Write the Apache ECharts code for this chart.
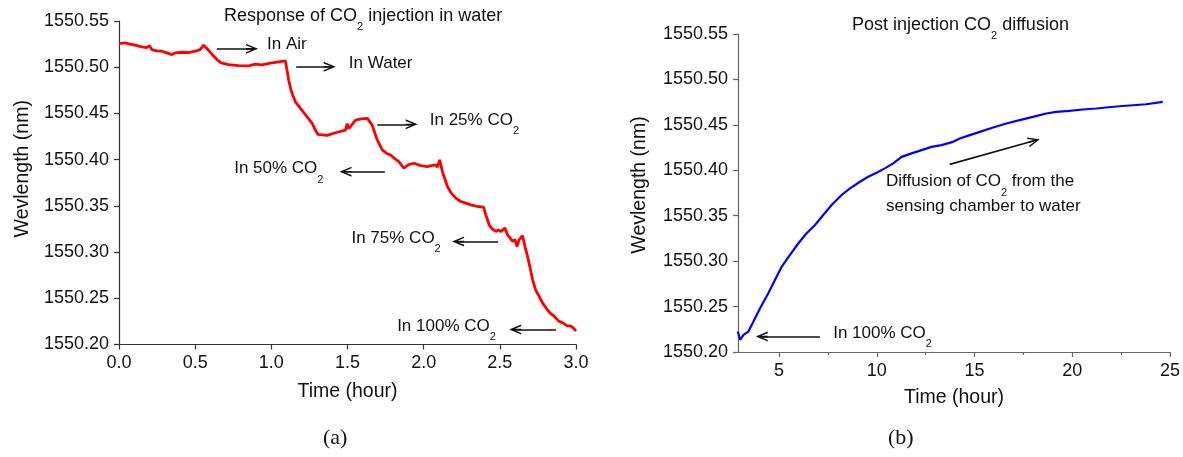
<!DOCTYPE html>
<html>
<head>
<meta charset="utf-8">
<script src="https://cdn.jsdelivr.net/npm/echarts@6/dist/echarts.min.js"></script>
<style>
html,body{margin:0;padding:0;background:#fff;}
#c{width:1183px;height:457px;}
</style>
</head>
<body>
<div id="c"></div>
<script>
// ---- Data (a): response of CO2 injection in water ----
var timeA = [0.0, 0.039, 0.072, 0.105, 0.149, 0.182, 0.2, 0.215, 0.248, 0.281,
  0.314, 0.347, 0.368, 0.412, 0.456, 0.5, 0.533, 0.555, 0.577, 0.61,
  0.643, 0.671, 0.719, 0.785, 0.851, 0.895, 0.939, 0.993, 1.048, 1.092,
  1.103, 1.114, 1.132, 1.158, 1.191, 1.235, 1.268, 1.289, 1.305, 1.366,
  1.421, 1.487, 1.498, 1.508, 1.52, 1.553, 1.59, 1.63, 1.662, 1.695,
  1.728, 1.755, 1.783, 1.81, 1.837, 1.87, 1.90, 1.936, 1.98, 2.024,
  2.05, 2.079, 2.09, 2.105, 2.123, 2.156, 2.18, 2.211, 2.24, 2.276,
  2.31, 2.353, 2.393, 2.408, 2.43, 2.45, 2.474, 2.49, 2.507, 2.533,
  2.551, 2.584, 2.60, 2.612, 2.627, 2.649, 2.665, 2.682, 2.70, 2.715,
  2.735, 2.758, 2.78, 2.803, 2.83, 2.857, 2.885, 2.913, 2.94, 2.967,
  2.985, 3.0];
var waveA = [1550.5256, 1550.5263, 1550.5249, 1550.5238, 1550.522, 1550.5213, 1550.5234, 1550.5191, 1550.5177, 1550.5173,
  1550.5155, 1550.5137, 1550.5155, 1550.5162, 1550.5159, 1550.5173, 1550.5191, 1550.5238, 1550.5202, 1550.5141,
  1550.5083, 1550.5047, 1550.5029, 1550.5018, 1550.5015, 1550.5033, 1550.5026, 1550.5044, 1550.5058, 1550.5069,
  1550.4968, 1550.486, 1550.4734, 1550.4626, 1550.4555, 1550.4464, 1550.4393, 1550.432, 1550.4274, 1550.4263,
  1550.4291, 1550.432, 1550.439, 1550.4335, 1550.4339, 1550.4428, 1550.444, 1550.4447, 1550.4374, 1550.4213,
  1550.4105, 1550.407, 1550.405, 1550.401, 1550.3978, 1550.3907, 1550.3945, 1550.3961, 1550.3935, 1550.3924,
  1550.3935, 1550.3943, 1550.392, 1550.3997, 1550.387, 1550.3709, 1550.364, 1550.3583, 1550.355, 1550.3529,
  1550.351, 1550.3493, 1550.3486, 1550.3403, 1550.3295, 1550.325, 1550.3223, 1550.324, 1550.3223, 1550.3259,
  1550.3187, 1550.3115, 1550.3135, 1550.3061, 1550.3133, 1550.3177, 1550.306, 1550.2953, 1550.282, 1550.2702,
  1550.259, 1550.2521, 1550.245, 1550.2396, 1550.234, 1550.2306, 1550.2255, 1550.2234, 1550.2205, 1550.2198,
  1550.2175, 1550.2144];

// ---- Data (b): post injection CO2 diffusion ----
var timeB = [2.89, 3.01, 3.18, 3.43, 3.69, 4.03, 4.45, 4.79, 5.14, 5.56,
  5.99, 6.41, 6.84, 7.26, 7.69, 8.2, 8.63, 9.14, 9.56, 9.99,
  10.41, 10.84, 11.27, 11.78, 12.29, 12.8, 13.31, 13.9, 14.24, 14.76,
  15.27, 15.95, 16.63, 17.31, 17.99, 18.67, 19.18, 19.86, 20.54, 21.22,
  21.74, 22.42, 23.10, 23.78, 24.63];
var waveB = [1550.2226, 1550.2134, 1550.2189, 1550.2225, 1550.2335, 1550.2482, 1550.2647, 1550.2793, 1550.294, 1550.3068,
  1550.3197, 1550.3307, 1550.3398, 1550.3508, 1550.3618, 1550.3728, 1550.3801, 1550.3874, 1550.3929, 1550.3973,
  1550.4021, 1550.4076, 1550.4148, 1550.4186, 1550.4222, 1550.4258, 1550.4277, 1550.4313, 1550.435, 1550.4387,
  1550.4423, 1550.4471, 1550.4515, 1550.4552, 1550.4588, 1550.4625, 1550.4643, 1550.4654, 1550.4669, 1550.468,
  1550.4691, 1550.4705, 1550.4716, 1550.4727, 1550.4753];

// ---- Tick labels ----
var xTicksB = [5, 10, 15, 20, 25];
var xMinorTicksB = [7.5, 12.5, 17.5, 22.5];

// ---- Annotations (rich text, anchor in data units) ----
var annotA = [
  { text: '{m|In Air}', at: [0.972, 1550.520], side: 'right' },
  { text: '{m|In Water}', at: [1.509, 1550.5004], side: 'right' },
  { text: '{m|In 25% CO}{sub|2}', at: [2.04, 1550.4382], side: 'right' },
  { text: '{m|In 50% CO}{sub|2}', at: [1.342, 1550.386], side: 'left' },
  { text: '{m|In 75% CO}{sub|2}', at: [2.112, 1550.3105], side: 'left' },
  { text: '{m|In 100% CO}{sub|2}', at: [2.474, 1550.2152], side: 'left' }
];
var arrowsA = [
  [[0.643, 1550.520], [0.873, 1550.520]],
  [[1.163, 1550.5004], [1.383, 1550.5004]],
  [[1.695, 1550.4382], [1.921, 1550.4382]],
  [[1.745, 1550.387], [1.487, 1550.387]],
  [[2.489, 1550.3115], [2.226, 1550.3115]],
  [[2.868, 1550.2162], [2.601, 1550.2162]]
];
var annotB = [
  { text: '{m|In 100% CO}{sub|2}', at: [7.77, 1550.216], side: 'right' },
  { text: '{m|Diffusion of CO}{sub|2}{m| from the}\n{m|sensing chamber to water}', at: [10.47, 1550.3695], side: 'right' }
];
var arrowsB = [
  [[7.09, 1550.217], [4.115, 1550.217]],
  [[13.73, 1550.4065], [18.045, 1550.4325]]
];

var FONT = '"Liberation Sans", Arial, sans-serif';
var TXT = '#111';
function richFor(size, subSize, lh) {
  return {
    m: { fontSize: size, fontWeight: 'normal', fontFamily: FONT, color: TXT, lineHeight: lh, verticalAlign: 'top' },
    sub: { fontSize: subSize, fontWeight: 'normal', fontFamily: FONT, color: TXT, lineHeight: 12, verticalAlign: 'bottom' }
  };
}
var richAnnot = richFor(17, 11, 25);
var richTitle = richFor(18, 11, 25);
var chevron = 'path://M5,0 L10,11 L8.4,11 L5,3.4 L1.6,11 L0,11 Z M4.3,1 L5.7,1 L5.7,11 L4.3,11 Z';

function markPoints(list) {
  return {
    silent: true,
    symbol: 'circle',
    symbolSize: 0,
    animation: false,
    data: list.map(function (a) {
      return {
        coord: a.at,
        label: {
          show: true,
          position: a.side,
          distance: 0,
          formatter: a.text,
          rich: richAnnot
        }
      };
    })
  };
}
function markLines(list) {
  return {
    silent: true,
    animation: false,
    symbol: ['none', chevron],
    symbolSize: [10, 12],
    label: { show: false },
    lineStyle: { color: TXT, width: 1.6, type: 'solid' },
    itemStyle: { color: TXT },
    data: list.map(function (p) { return [{ coord: p[0] }, { coord: p[1] }]; })
  };
}
function fmt1(v) { return v.toFixed(1); }
function fmt2(v) { return v.toFixed(2); }
function fmt0(v) { return String(v); }

function axisLine(color) { return { show: true, lineStyle: { color: color, width: 1.2 } }; }
function axisTick(color) { return { show: true, inside: false, length: 5, lineStyle: { color: color, width: 1.2 } }; }
var nameBase = { color: TXT, fontSize: 19.5, fontFamily: FONT };

var chart = echarts.init(document.getElementById('c'));
var option = {
  animation: false,
  backgroundColor: '#fff',
  title: [
    { text: '{m|Response of CO}{sub|2}{m| injection in water}', left: 219, top: 2,
      textStyle: { fontWeight: 'normal', rich: richTitle } },
    { text: '{m|Post injection CO}{sub|2}{m| diffusion}', left: 847, top: 11,
      textStyle: { fontWeight: 'normal', rich: richTitle } }
  ],
  graphic: [
    { type: 'text', left: 323, top: 427, style: { text: '(a)', font: '22px "Liberation Serif", serif', fill: TXT } },
    { type: 'text', left: 888, top: 427, style: { text: '(b)', font: '22px "Liberation Serif", serif', fill: TXT } }
  ],
  grid: [
    { left: 119, top: 21, width: 457, height: 323.5 },
    { left: 738, top: 34, width: 433, height: 318 }
  ],
  xAxis: [
    {
      type: 'value', gridIndex: 0, min: 0, max: 3, interval: 0.5,
      name: 'Time (hour)', nameLocation: 'middle', nameGap: 37, nameTextStyle: nameBase,
      axisLine: axisLine('#333'), axisTick: axisTick('#333'), splitLine: { show: false },
      axisLabel: { color: TXT, fontSize: 18, fontFamily: FONT, margin: 10, formatter: fmt1 }
    },
    {
      type: 'value', gridIndex: 1, min: 2.9, max: 25, position: 'bottom',
      name: 'Time (hour)', nameLocation: 'middle', nameGap: 36, nameTextStyle: nameBase,
      axisLine: axisLine('#666'),
      axisTick: { show: true, inside: false, length: 5, customValues: xTicksB, lineStyle: { color: '#666', width: 1.2 } },
      splitLine: { show: false },
      axisLabel: { color: TXT, fontSize: 18, fontFamily: FONT, margin: 10, customValues: xTicksB, formatter: fmt0 }
    },
    {
      type: 'value', gridIndex: 1, min: 2.9, max: 25, position: 'bottom', offset: 0,
      axisLine: { show: false },
      axisLabel: { show: false },
      splitLine: { show: false },
      axisTick: { show: true, inside: false, length: 3, customValues: xMinorTicksB, lineStyle: { color: '#666', width: 1.2 } }
    }
  ],
  yAxis: [
    {
      type: 'value', gridIndex: 0, min: 1550.20, max: 1550.55, interval: 0.05,
      name: 'Wevlength (nm)', nameLocation: 'middle', nameGap: 86, nameRotate: 90,
      nameTextStyle: { color: TXT, fontSize: 19.5, fontFamily: FONT, padding: [0, 0, 0, 28] },
      axisLine: axisLine('#333'), axisTick: axisTick('#333'), splitLine: { show: false },
      axisLabel: { color: TXT, fontSize: 18, fontFamily: FONT, margin: 10, formatter: fmt2 }
    },
    {
      type: 'value', gridIndex: 1, min: 1550.20, max: 1550.55, interval: 0.05,
      name: 'Wevlength (nm)', nameLocation: 'middle', nameGap: 88, nameRotate: 90,
      nameTextStyle: { color: TXT, fontSize: 19.5, fontFamily: FONT, padding: [0, 0, 0, 16] },
      axisLine: axisLine('#666'), axisTick: axisTick('#666'), splitLine: { show: false },
      axisLabel: { color: TXT, fontSize: 18, fontFamily: FONT, margin: 10, formatter: fmt2 }
    }
  ],
  series: [
    {
      type: 'line', xAxisIndex: 0, yAxisIndex: 0,
      data: timeA.map(function (t, i) { return [t, waveA[i]]; }),
      showSymbol: false, symbol: 'none',
      lineStyle: { color: '#ff0000', width: 2.8 },
      itemStyle: { color: '#ff0000' },
      markLine: markLines(arrowsA),
      markPoint: markPoints(annotA)
    },
    {
      type: 'line', xAxisIndex: 1, yAxisIndex: 1,
      data: timeB.map(function (t, i) { return [t, waveB[i]]; }),
      showSymbol: false, symbol: 'none',
      lineStyle: { color: '#0000ff', width: 2.2 },
      itemStyle: { color: '#0000ff' },
      markLine: markLines(arrowsB),
      markPoint: markPoints(annotB)
    }
  ]
};
chart.setOption(option);
</script>
</body>
</html>
